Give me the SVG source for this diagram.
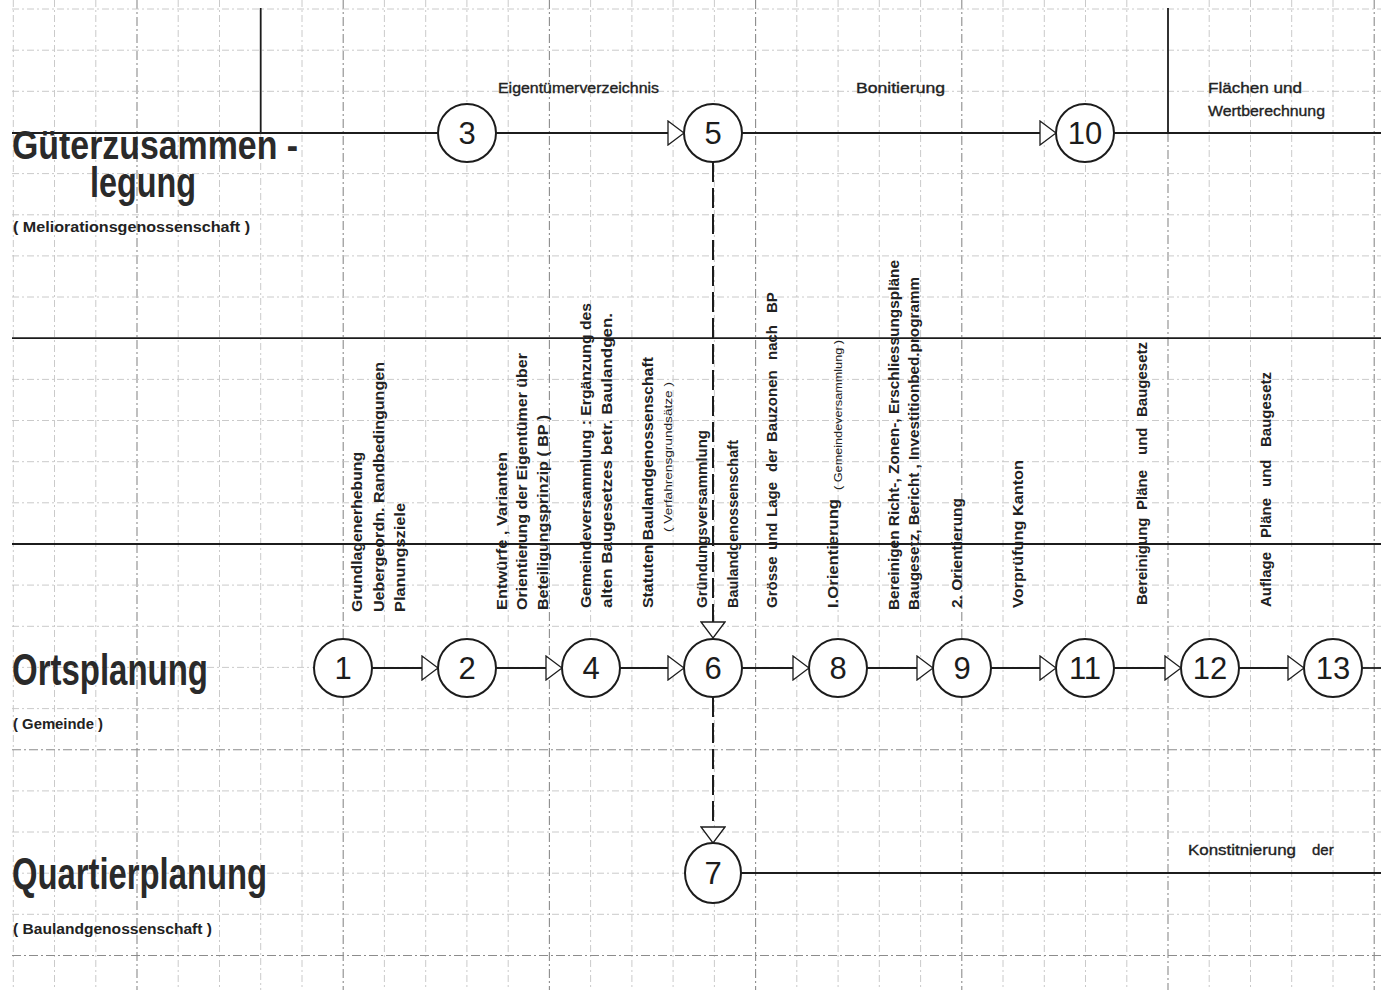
<svg xmlns="http://www.w3.org/2000/svg" width="1381" height="990" viewBox="0 0 1381 990">
<defs>
<style>
.gmin{stroke:#c4c4c4;stroke-width:0.9;stroke-dasharray:7 3 2 3;fill:none}
.gmaj{stroke:#8c8c8c;stroke-width:1.1;stroke-dasharray:9 3 2 3;fill:none}
.solid{stroke:#1c1c1c;stroke-width:1.8;fill:none}
.trk{stroke:#1c1c1c;stroke-width:1.8;fill:none}
.dash{stroke:#1c1c1c;stroke-width:2;stroke-dasharray:20 6;fill:none}
.node{fill:#fff;stroke:#1c1c1c;stroke-width:2}
.num{font-family:"Liberation Sans",Arial,sans-serif;font-size:31px;fill:#1c1c1c;text-anchor:middle}
.big{font-family:"Liberation Sans",Arial,sans-serif;font-weight:bold;fill:#2a2a2a}
.sub{font-family:"Liberation Sans",Arial,sans-serif;font-weight:bold;font-size:14.5px;fill:#222}
.vt{font-family:"Liberation Sans",Arial,sans-serif;font-weight:bold;font-size:15px;fill:#222}
.vs{font-family:"Liberation Sans",Arial,sans-serif;font-size:11px;fill:#222}
.ht{font-family:"Liberation Sans",Arial,sans-serif;font-size:15px;fill:#222;stroke:#222;stroke-width:0.35}
</style>
<marker id="ah" viewBox="-1 -13 18 26" markerWidth="18" markerHeight="26" refX="0" refY="0" orient="auto" markerUnits="userSpaceOnUse">
<path d="M0,-12 L16,0 L0,12 Z" fill="#fff" stroke="#1c1c1c" stroke-width="1.3"/>
</marker>
</defs>
<rect width="1381" height="990" fill="#fff"/>
<g id="grid">
<path class="gmin" d="M13.3,0V990M54.5,0V990M95.8,0V990M178.2,0V990M219.5,0V990M302,0V990M384.4,0V990M425.7,0V990M466.9,0V990M508.2,0V990M590.6,0V990M631.9,0V990M673.1,0V990M714.4,0V990M796.8,0V990M838.1,0V990M879.3,0V990M920.6,0V990M1003,0V990M1044.3,0V990M1085.5,0V990M1126.8,0V990M1209.2,0V990M1250.5,0V990M1291.7,0V990M1333,0V990M260.7,133V990"/>
<path class="gmaj" d="M137,0V990M343.2,0V990M549.4,0V990M755.6,0V990M961.8,0V990M1168,133V990M1374.2,0V990"/>
<path class="gmin" d="M12,9H1381M12,50.2H1381M12,91.3H1381M12,173.6H1381M12,214.8H1381M12,255.9H1381M12,297H1381M12,379.4H1381M12,420.5H1381M12,461.7H1381M12,502.8H1381M12,585.1H1381M12,626.3H1381M12,667.4H1381M12,708.6H1381M12,790.9H1381M12,832H1381M12,873.2H1381M12,914.3H1381"/>
<path class="gmaj" d="M12,749.7H1381M12,955.5H1381"/>
<path class="solid" d="M12,338.2H1381M12,544H1381"/>
<path class="solid" stroke-width="1.3" d="M260.7,8V133M1168,8V133"/>
</g>
<g id="connectors">
<path class="trk" d="M12,133H440"/>
<path class="trk" d="M496,133H668" marker-end="url(#ah)"/>
<path class="trk" d="M742,133H1040" marker-end="url(#ah)"/>
<path class="trk" d="M1114,133H1381"/>
<path class="trk" d="M372,668H422" marker-end="url(#ah)"/>
<path class="trk" d="M496,668H546" marker-end="url(#ah)"/>
<path class="trk" d="M620,668H668" marker-end="url(#ah)"/>
<path class="trk" d="M742,668H793" marker-end="url(#ah)"/>
<path class="trk" d="M867,668H917" marker-end="url(#ah)"/>
<path class="trk" d="M991,668H1040" marker-end="url(#ah)"/>
<path class="trk" d="M1114,668H1165" marker-end="url(#ah)"/>
<path class="trk" d="M1239,668H1288" marker-end="url(#ah)"/>
<path class="trk" d="M1362,668H1381"/>
<path class="trk" d="M741,873H1381"/>
<path class="dash" d="M713,162V622" marker-end="url(#ah)"/>
<path class="dash" d="M713,697V827" marker-end="url(#ah)"/>
</g>
<g id="n3"><circle class="node" cx="467" cy="133" r="29"/><text class="num" x="467" y="144">3</text></g>
<g id="n5"><circle class="node" cx="713" cy="133" r="29"/><text class="num" x="713" y="144">5</text></g>
<g id="n10"><circle class="node" cx="1085" cy="133" r="29"/><text class="num" x="1085" y="144">10</text></g>
<g id="n1"><circle class="node" cx="343" cy="668" r="29"/><text class="num" x="343" y="679">1</text></g>
<g id="n2"><circle class="node" cx="467" cy="668" r="29"/><text class="num" x="467" y="679">2</text></g>
<g id="n4"><circle class="node" cx="591" cy="668" r="29"/><text class="num" x="591" y="679">4</text></g>
<g id="n6"><circle class="node" cx="713" cy="668" r="29"/><text class="num" x="713" y="679">6</text></g>
<g id="n8"><circle class="node" cx="838" cy="668" r="29"/><text class="num" x="838" y="679">8</text></g>
<g id="n9"><circle class="node" cx="962" cy="668" r="29"/><text class="num" x="962" y="679">9</text></g>
<g id="n11"><circle class="node" cx="1085" cy="668" r="29"/><text class="num" x="1085" y="679">11</text></g>
<g id="n12"><circle class="node" cx="1210" cy="668" r="29"/><text class="num" x="1210" y="679">12</text></g>
<g id="n13"><circle class="node" cx="1333" cy="668" r="29"/><text class="num" x="1333" y="679">13</text></g>
<g id="n7"><ellipse class="node" cx="713" cy="873" rx="28" ry="30"/><text class="num" x="713" y="884">7</text></g>
<g id="labels">
<text class="big" font-size="40"><tspan x="12" y="159" textLength="286" lengthAdjust="spacingAndGlyphs">Güterzusammen -</tspan><tspan x="90" y="197" font-size="42" textLength="106" lengthAdjust="spacingAndGlyphs">legung</tspan></text>
<text class="sub" x="13" y="232" textLength="237" lengthAdjust="spacingAndGlyphs">( Meliorationsgenossenschaft )</text>
<text class="big" x="12" y="685" font-size="44" textLength="196" lengthAdjust="spacingAndGlyphs">Ortsplanung</text>
<text class="sub" x="13" y="729" textLength="90" lengthAdjust="spacingAndGlyphs">( Gemeinde )</text>
<text class="big" x="12" y="889" font-size="44" textLength="255" lengthAdjust="spacingAndGlyphs">Quartierplanung</text>
<text class="sub" x="13" y="934" textLength="199" lengthAdjust="spacingAndGlyphs">( Baulandgenossenschaft )</text>
<text class="ht" x="498" y="93" textLength="161" lengthAdjust="spacingAndGlyphs">Eigentümerverzeichnis</text>
<text class="ht" x="856" y="93" textLength="89" lengthAdjust="spacingAndGlyphs">Bonitierung</text>
<text class="ht" x="1208" y="93" textLength="94" lengthAdjust="spacingAndGlyphs">Flächen und</text>
<text class="ht" x="1208" y="116" textLength="117" lengthAdjust="spacingAndGlyphs">Wertberechnung</text>
<text class="ht" y="855"><tspan x="1188" textLength="108" lengthAdjust="spacingAndGlyphs">Konstitnierung</tspan><tspan x="1312">der</tspan></text>
</g>
<g id="steps">
<text class="vt" transform="translate(362,612) rotate(-90)" textLength="160" lengthAdjust="spacingAndGlyphs">Grundlagenerhebung</text>
<text class="vt" transform="translate(384,612) rotate(-90)" textLength="250" lengthAdjust="spacingAndGlyphs">Uebergeordn. Randbedingungen</text>
<text class="vt" transform="translate(405,612) rotate(-90)" textLength="109" lengthAdjust="spacingAndGlyphs">Planungsziele</text>
<text class="vt" transform="translate(507,610) rotate(-90)" textLength="158" lengthAdjust="spacingAndGlyphs">Entwürfe , Varianten</text>
<text class="vt" transform="translate(527,610) rotate(-90)" textLength="257" lengthAdjust="spacingAndGlyphs">Orientierung der Eigentümer über</text>
<text class="vt" transform="translate(548,610) rotate(-90)" textLength="195" lengthAdjust="spacingAndGlyphs">Beteiligungsprinzip ( BP )</text>
<text class="vt" transform="translate(591,608) rotate(-90)" textLength="305" lengthAdjust="spacingAndGlyphs">Gemeindeversammlung : Ergänzung des</text>
<text class="vt" transform="translate(612,608) rotate(-90)" textLength="295" lengthAdjust="spacingAndGlyphs">alten Baugesetzes betr. Baulandgen.</text>
<text class="vt" transform="translate(653,608) rotate(-90)" textLength="251" lengthAdjust="spacingAndGlyphs">Statuten Baulandgenossenschaft</text>
<text class="vs" transform="translate(672,532) rotate(-90)" textLength="150" lengthAdjust="spacingAndGlyphs">( Verfahrensgrundsätze )</text>
<text class="vt" transform="translate(707,608) rotate(-90)" textLength="178" lengthAdjust="spacingAndGlyphs">Gründungsversammlung</text>
<text class="vt" transform="translate(738,608) rotate(-90)" textLength="168" lengthAdjust="spacingAndGlyphs">Baulandgenossenschaft</text>
<text class="vt" transform="translate(777,608) rotate(-90)"><tspan x="0">Grösse</tspan><tspan x="58">und</tspan><tspan x="91">Lage</tspan><tspan x="136">der</tspan><tspan x="166">Bauzonen</tspan><tspan x="248">nach</tspan><tspan x="295">BP</tspan></text>
<text class="vt" transform="translate(838,608) rotate(-90)" textLength="109" lengthAdjust="spacingAndGlyphs">I.Orientierung</text>
<text class="vs" transform="translate(842,490) rotate(-90)" textLength="150" lengthAdjust="spacingAndGlyphs">( Gemeindeversammlung )</text>
<text class="vt" transform="translate(899,610) rotate(-90)" textLength="350" lengthAdjust="spacingAndGlyphs">Bereinigen Richt-, Zonen-, Erschliessungspläne</text>
<text class="vt" transform="translate(919,610) rotate(-90)" textLength="333" lengthAdjust="spacingAndGlyphs">Baugesetz, Bericht , Investitionbed.programm</text>
<text class="vt" transform="translate(962,608) rotate(-90)" textLength="110" lengthAdjust="spacingAndGlyphs">2. Orientierung</text>
<text class="vt" transform="translate(1023,608) rotate(-90)" textLength="148" lengthAdjust="spacingAndGlyphs">Vorprüfung Kanton</text>
<text class="vt" transform="translate(1147,605) rotate(-90)"><tspan x="0">Bereinigung</tspan><tspan x="95">Pläne</tspan><tspan x="150">und</tspan><tspan x="188">Baugesetz</tspan></text>
<text class="vt" transform="translate(1271,607) rotate(-90)"><tspan x="0">Auflage</tspan><tspan x="69">Pläne</tspan><tspan x="120">und</tspan><tspan x="160">Baugesetz</tspan></text>
</g>
</svg>
